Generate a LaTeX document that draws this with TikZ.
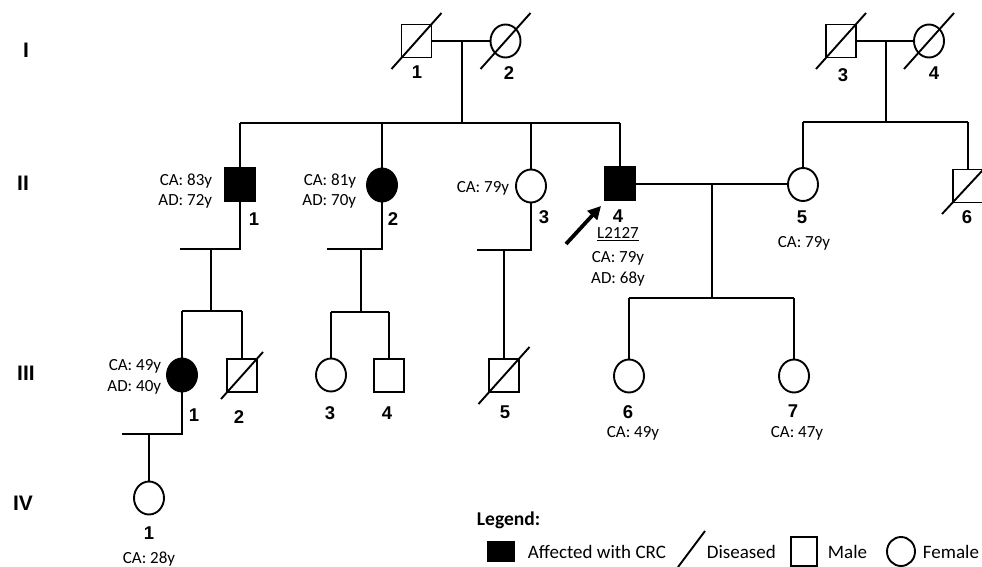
\documentclass[tikz,border=0pt]{standalone}
\usepackage{fontspec}
\setmainfont{Carlito}
\newfontfamily\arialfont{Liberation Sans}
\usetikzlibrary{shapes.geometric,arrows.meta,calc}
\newcommand\dslash[3]{\draw ([shift={(-#2,#3)}]#1.center) -- ([shift={(#2,-#3)}]#1.center);}
\begin{document}
\begin{tikzpicture}[x=1pt,y=-1pt, line width=1.9pt,
  male/.style={draw, rectangle, minimum width=30pt, minimum height=33pt, inner sep=0pt},
  female/.style={draw, ellipse, minimum width=30pt, minimum height=33pt, inner sep=0pt},
  aff/.style={fill=black},
  num/.style={font=\arialfont\bfseries\fontsize{18.5}{20}\selectfont, inner sep=0pt},
  gen/.style={font=\arialfont\bfseries\fontsize{21}{24}\selectfont, inner sep=0pt},
  info/.style={font=\fontsize{17}{20.5}\selectfont, inner sep=0pt},
  lgtext/.style={font=\fontsize{19}{22}\selectfont, inner sep=0pt, anchor=west}
]
\useasboundingbox[fill=white] (0,0) rectangle (982,567);

% generation labels
\node[gen] (gI) at (26,50) {I};
\node[gen] (gII) at (23,183) {II};
\node[gen] (gIII) at (26,373) {III};
\node[gen] (gIV) at (23,503) {IV};

% individuals
\node[male] (I1) at (416.5,41) {};
\node[female] (I2) at (505.5,41) {};
\node[male] (I3) at (841,41) {};
\node[female] (I4) at (929,41) {};
\node[male,aff] (II1) at (240,184.5) {};
\node[female,aff] (II2) at (382,185) {};
\node[female] (II3) at (531,186) {};
\node[male,aff] (II4) at (620,183.5) {};
\node[female] (II5) at (803,184.5) {};
\node[male] (II6) at (968,186) {};
\node[female,aff] (III1) at (182,375) {};
\node[male] (III2) at (242,375.5) {};
\node[female] (III3) at (331,375) {};
\node[male] (III4) at (389,375.5) {};
\node[male] (III5) at (504,375.5) {};
\node[female] (III6) at (629,376) {};
\node[female] (III7) at (794,376) {};
\node[female] (IV1) at (149,498) {};

% deceased slashes
\dslash{I1}{25}{28}
\dslash{I2}{25}{28}
\dslash{I3}{25}{28}
\dslash{I4}{25}{28}
\dslash{II6}{26}{28}
\dslash{III2}{21}{23.5}
\dslash{III5}{25.5}{28.5}

% junction coordinates
\coordinate (m12) at (462,41);
\coordinate (s12) at (462,123);
\coordinate (m34) at (886,41);
\coordinate (s34) at (886,122);
\coordinate (m45) at (712,184);
\coordinate (s45) at (712,298);
\coordinate (p1) at (240,249);
\coordinate (p1l) at (180,249);
\coordinate (d1) at (211,249);
\coordinate (s1) at (211,311);
\coordinate (p2) at (382,249);
\coordinate (p2l) at (327,249);
\coordinate (d2) at (361,249);
\coordinate (s2) at (361,312);
\coordinate (p3) at (531,250);
\coordinate (p3l) at (477,250);
\coordinate (d3) at (504,250);
\coordinate (p4) at (182,434);
\coordinate (p4l) at (122,434);
\coordinate (d4) at (149,434);

% generation I -> II (left)
\draw (I1) -- (I2);
\draw (m12) -- (s12);
\draw (II1.north |- s12) -- (II4.north |- s12);
\foreach \n in {II1,II2,II3,II4} \draw (\n.north |- s12) -- (\n.north);

% generation I -> II (right)
\draw (I3) -- (I4);
\draw (m34) -- (s34);
\draw (II5.north |- s34) -- (II6.north |- s34);
\foreach \n in {II5,II6} \draw (\n.north |- s34) -- (\n.north);

% II4 x II5
\draw (II4.east |- m45) -- (II5.west |- m45);
\draw (m45) -- (s45);
\draw (III6.north |- s45) -- (III7.north |- s45);
\foreach \n in {III6,III7} \draw (\n.north |- s45) -- (\n.north);

% II1 offspring
\draw (II1.south) -- (p1) -- (p1l);
\draw (d1) -- (s1);
\draw (III1.north |- s1) -- (III2.north |- s1);
\foreach \n in {III1,III2} \draw (\n.north |- s1) -- (\n.north);

% II2 offspring
\draw (II2.south) -- (p2) -- (p2l);
\draw (d2) -- (s2);
\draw (III3.north |- s2) -- (III4.north |- s2);
\foreach \n in {III3,III4} \draw (\n.north |- s2) -- (\n.north);

% II3 offspring
\draw (II3.south) -- (p3) -- (p3l);
\draw (d3) -- (III5.north);

% III1 offspring
\draw (III1.south) -- (p4) -- (p4l);
\draw (d4) -- (IV1.north);

% numbers
\node[num] (nI1) at (417,72) {1};
\node[num] (nI2) at (509,73) {2};
\node[num] (nI3) at (843,75) {3};
\node[num] (nI4) at (934,73) {4};
\node[num] (nII1) at (254,219) {1};
\node[num] (nII2) at (393,219) {2};
\node[num] (nII3) at (544,217) {3};
\node[num] (nII4) at (618,216) {4};
\node[num] (nII5) at (802,217) {5};
\node[num] (nII6) at (967,217) {6};
\node[num] (nIII1) at (194,415) {1};
\node[num] (nIII2) at (239,417) {2};
\node[num] (nIII3) at (330,413) {3};
\node[num] (nIII4) at (387,413) {4};
\node[num] (nIII5) at (505,412) {5};
\node[num] (nIII6) at (628,412) {6};
\node[num] (nIII7) at (793,411) {7};
\node[num] (nIV1) at (149,533) {1};

% info texts
\node[info, anchor=east, align=right] (tII1) at (213,191) {CA: 83y\\AD: 72y};
\node[info, anchor=east, align=right] (tII2) at (357,191) {CA: 81y\\AD: 70y};
\node[info, anchor=east] (tII3) at (510,188) {CA: 79y};
\node[info] (tII4a) at (618,234) {\underline{L2127}};
\node[info, align=center] (tII4b) at (618,269) {CA: 79y\\AD: 68y};
\node[info] (tII5) at (804,243) {CA: 79y};
\node[info, anchor=east, align=right] (tIII1) at (162,377) {CA: 49y\\AD: 40y};
\node[info] (tIII6) at (633,433) {CA: 49y};
\node[info] (tIII7) at (797,433) {CA: 47y};
\node[info] (tIV1) at (149,559) {CA: 28y};

% proband arrow
\coordinate (ar0) at (566,244);
\coordinate (ar1) at (601,206);
\draw[line width=3.8pt, -{Triangle[length=13pt,width=13pt]}] (ar0) -- (ar1);

% legend
\node[font=\bfseries\fontsize{19.5}{22}\selectfont, anchor=west, inner sep=0pt] (lgT) at (476,520) {Legend:};
\node[fill=black, minimum width=28pt, minimum height=21pt, inner sep=0pt] (lgA) at (501,551.5) {};
\node[lgtext] (lgAt) at (527,552) {Affected with CRC};
\coordinate (lgd1) at (678,567);
\coordinate (lgd2) at (705,531);
\draw (lgd1) -- (lgd2);
\node[lgtext] (lgDt) at (706,552) {Diseased};
\node[draw, minimum width=26pt, minimum height=29pt, inner sep=0pt] (lgM) at (804,551.5) {};
\node[lgtext] (lgMt) at (827,552) {Male};
\node[draw, ellipse, minimum width=28pt, minimum height=29pt, inner sep=0pt] (lgF) at (901,551.5) {};
\node[lgtext] (lgFt) at (922,552) {Female};
\end{tikzpicture}
\end{document}
